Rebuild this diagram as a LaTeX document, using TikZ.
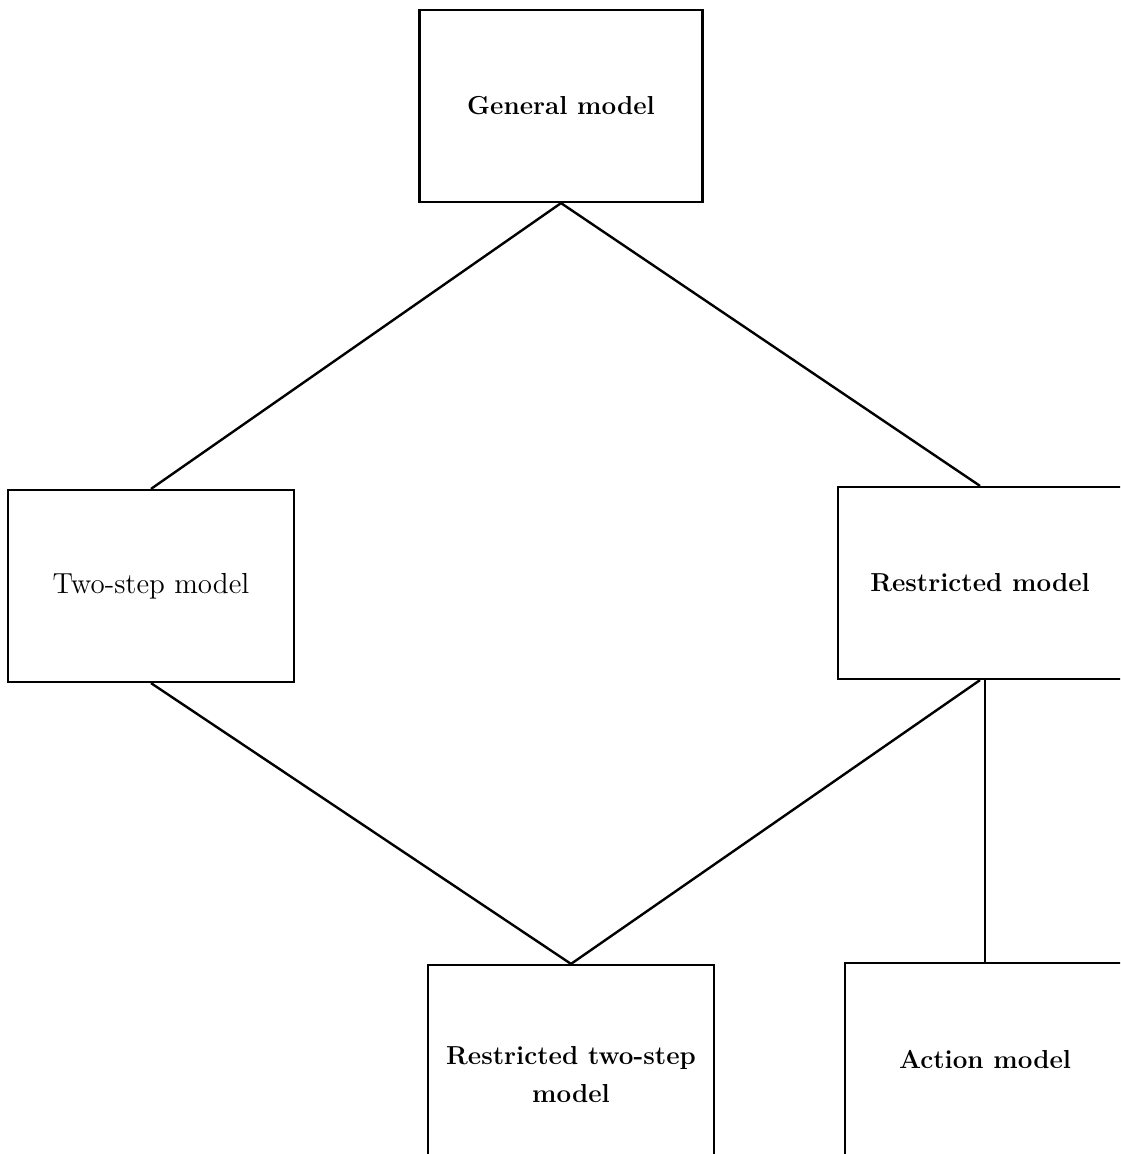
\documentclass[tikz,border=0pt]{standalone}
\usepackage{tikz}
\usetikzlibrary{calc}

\begin{document}
\begin{tikzpicture}[x=0.5pt, y=-0.5pt, line width=1.1pt,
    modelbox/.style={draw, minimum width=143pt, minimum height=96pt,
      align=center, font=\fontsize{13}{17}\selectfont\bfseries},
    link/.style={line width=1.2pt}]

  \useasboundingbox (0, 0) rectangle (1120, 1154);
  \clip (0, 0) rectangle (1120, 1154);

  \node[modelbox, minimum width=141.5pt] (general) at (561, 106) {General model};
  \node[modelbox, font=\fontsize{14.5}{17}\selectfont] (twostep) at (151, 586) {Two-step model};
  \node[modelbox, minimum width=142pt] (restricted) at (980, 583) {Restricted model};
  \node[modelbox, minimum height=110pt, font=\fontsize{13}{19}\selectfont\bfseries]
    (restwostep) at (571, 1075) {Restricted two-step\\ model};
  \node[modelbox, minimum width=140pt] (action) at (985, 1059) {Action model};

  \draw[link] (general.south) -- (twostep.north);
  \draw[link] (general.south) -- (restricted.north);
  \draw[link] (twostep.south) -- (restwostep.north);
  \draw[link] (restricted.south) -- (restwostep.north);
  \draw[link] (action.north) -- (action.north |- restricted.south);

\end{tikzpicture}
\end{document}
